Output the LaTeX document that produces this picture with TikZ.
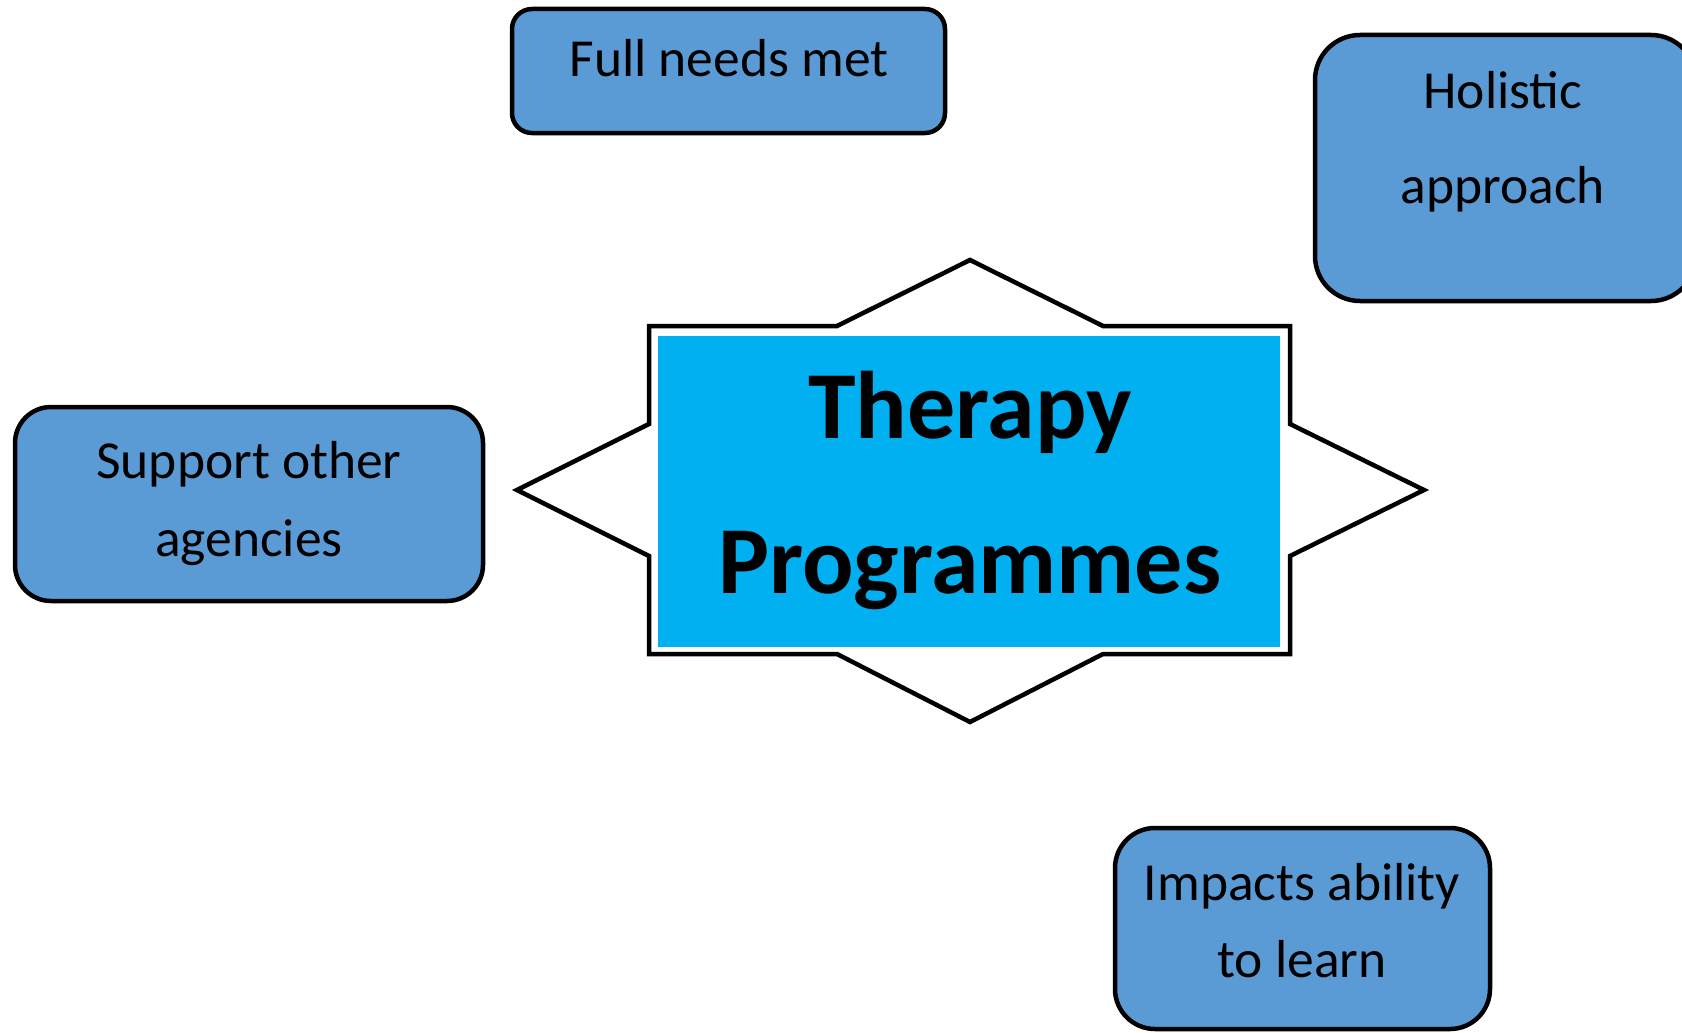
\documentclass[tikz,border=0pt]{standalone}
\usepackage{fontspec}
\setmainfont{Carlito}
\definecolor{boxblue}{HTML}{5B9BD5}
\definecolor{centcyan}{HTML}{00B0F0}
\begin{document}
\begin{tikzpicture}[x=1pt,y=-1pt,
  box/.style={draw=black,line width=4.5pt,fill=boxblue},
  lbl/.style={anchor=base,inner sep=0pt,font=\fontsize{53.5}{60}\selectfont},
  big/.style={anchor=base,inner sep=0pt,font=\fontsize{96}{110}\selectfont\bfseries}]
\useasboundingbox (0,0) rectangle (1682,1033);
\clip (0,0) rectangle (1682,1033);
% star outline
\draw[line width=4.5pt,fill=white,line join=miter]
  (517,490) coordinate (sl) -- (649,424) -- (649,326) -- (837,326) -- (970,260) coordinate (st)
  -- (1103,326) -- (1290,326) -- (1290,424) -- (1424,490) coordinate (sr)
  -- (1290,556) -- (1290,654) -- (1103,654) -- (970,722) coordinate (sb)
  -- (837,654) -- (649,654) -- (649,556) -- cycle;
\fill[centcyan] (658,336) rectangle (1280,647);
\node[big] (t1) at (970,438) {Therapy};
\node[big] (t2) at (970,593) {Programmes};
% boxes
\draw[box,rounded corners=20pt] (512,9) rectangle (945,133);
\node[lbl] (full) at (729,77) {Full needs met};
\draw[box,rounded corners=45pt] (1315,35) rectangle (1696,301);
\node[lbl] (hol1) at (1503,109) {Holistic};
\node[lbl] (hol2) at (1503,203) {approach};
\draw[box,rounded corners=36pt] (15,407) rectangle (483,601);
\node[lbl] (sup1) at (249,478) {Support other};
\node[lbl] (sup2) at (249,556) {agencies};
\draw[box,rounded corners=40pt] (1115,828) rectangle (1490,1029);
\node[lbl] (imp1) at (1302,900) {Impacts ability};
\node[lbl] (imp2) at (1302,977) {to learn};
\end{tikzpicture}
\end{document}
